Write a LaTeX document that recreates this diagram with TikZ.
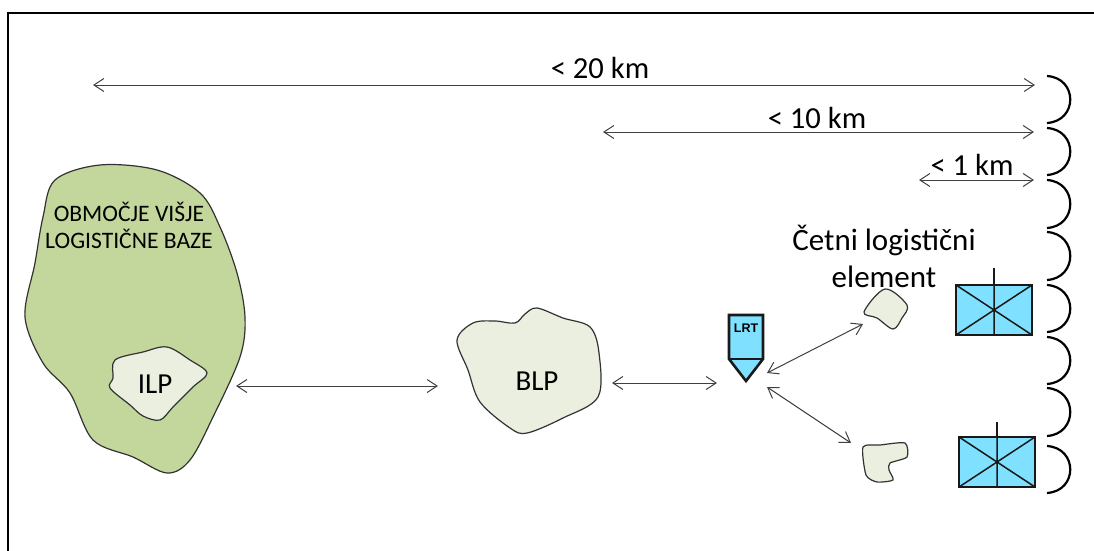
\documentclass[tikz,border=0pt]{standalone}
\usepackage{fontspec}
\setmainfont{Carlito}
\newfontfamily\lrtfont{Liberation Sans}
\usetikzlibrary{arrows.meta}
\definecolor{basegreen}{RGB}{195,214,155}
\definecolor{padlight}{RGB}{235,239,223}
\definecolor{unitblue}{RGB}{128,224,255}
\definecolor{blobline}{RGB}{50,50,50}
\tikzset{
  frameline/.style={line width=1.7pt,black},
  blob/.style={draw=blobline,line width=1.2pt,smooth cycle,tension=0.55},
  twoway/.style={draw=black!75,line width=1pt,{Straight Barb[length=10pt,width=13pt]}-{Straight Barb[length=10pt,width=13pt]}},
  bulge/.style={draw=black,line width=2.2pt},
  unitbox/.style={draw=black!90,line width=2.6pt,fill=unitblue,line join=miter},
  unitline/.style={draw=black!90,line width=1.5pt},
  lbl/.style={inner sep=0pt,align=center,text=black,font=\fontsize{30.6}{36}\selectfont},
}
\begin{document}
\begin{tikzpicture}[x=1pt,y=-1pt]
\useasboundingbox (0,0) rectangle (1094,551);
\draw[frameline] (8,551) -- (8,13) -- (1094,13);

% areas
\draw[blob,fill=basegreen] plot coordinates {(100,165)(55,180)(43,217)(35,263)(25,317)(43,363)(70,393)(93,440)(133,457)(167,473)(190,460)(213,417)(240,357)(245,317)(237,273)(220,227)(200,193)(157,170)};
\draw[blob,fill=padlight] plot coordinates {(115,360)(113,378)(110,388)(130,405)(143,416)(160,420)(173,407)(193,387)(207,373)(190,360)(167,347)(143,352)};
\draw[blob,fill=padlight] plot coordinates {(457,340)(473,323)(495,321)(515,323)(525,314)(537,308)(563,318)(590,327)(599,353)(598,397)(563,418)(527,433)(510,428)(480,402)(468,370)};
\draw[blob,fill=padlight] plot coordinates {(864,312)(885,289)(907,305)(902,318)(893,329)(877,318)};
\draw[blob,fill=padlight,tension=0.4] plot coordinates {(863,447)(880,445)(905,443)(907,457)(890,463)(889,470)(893,480)(877,482)(866,475)};

% labels
\node[lbl,font=\fontsize{23.6}{27}\selectfont] (baselabel) at (129,225) {OBMOČJE VIŠJE\\LOGISTIČNE BAZE};
\node[lbl,font=\fontsize{29}{36}\selectfont] (ilp) at (155,384) {ILP};
\node[lbl,font=\fontsize{29}{36}\selectfont] (blp) at (537,381) {BLP};
\node[lbl] (km20) at (600,68) {< 20 km};
\node[lbl] (km10) at (817,118) {< 10 km};
\node[lbl] (km1) at (972,165) {< 1 km};
\node[lbl,font=\fontsize{31}{37}\selectfont] (element) at (884,256) {Četni logistični\\element};

% LRT symbol
\draw[unitbox] (729,315) -- (763,315) -- (763,359) -- (746,381) -- (729,359) -- cycle;
\draw[unitline] (729,359) -- (763,359);
\node[inner sep=0pt,font=\lrtfont\bfseries\fontsize{12.5}{13}\selectfont] (lrt) at (746,328) {LRT};

% unit boxes
\draw[unitbox] (956,285) rectangle (1032,335);
\draw[unitline] (956,285) -- (1032,335) (956,335) -- (1032,285) (994,285) -- (994,335);
\draw[unitline,line width=2pt] (994,268) -- (994,285);
\draw[unitbox] (959,437) rectangle (1035,487);
\draw[unitline] (959,437) -- (1035,487) (959,487) -- (1035,437) (997,437) -- (997,487);
\draw[unitline,line width=2pt] (997,422) -- (997,437);

% connector ends
\coordinate (a20l) at (93,85);
\coordinate (a20r) at (1035,85);
\coordinate (a10l) at (603,132);
\coordinate (a10r) at (1034,132);
\coordinate (a1l) at (919,180);
\coordinate (a1r) at (1034,180);
\coordinate (ilpe) at (236,386);
\coordinate (blpw) at (438,386);
\coordinate (blpe) at (612,383);
\coordinate (lrtw) at (717,383);
\coordinate (lrtne) at (767,373);
\coordinate (topel) at (863,324);
\coordinate (lrtse) at (767,387);
\coordinate (botel) at (851,443);

\draw[twoway] (a20l) -- (a20r);
\draw[twoway] (a10l) -- (a10r);
\draw[twoway] (a1l) -- (a1r);
\draw[twoway] (ilpe) -- (blpw);
\draw[twoway] (blpe) -- (lrtw);
\draw[twoway] (lrtne) -- (topel);
\draw[twoway] (lrtse) -- (botel);

% bulges
\foreach \t/\b in {76/123,128/175,180/228,232/280,285/332,337/384,388/436,446/493}{
  \draw[bulge] (1047,\t) .. controls (1078,{\t+2}) and (1078,{\b-2}) .. (1047,\b);
}
\end{tikzpicture}
\end{document}
